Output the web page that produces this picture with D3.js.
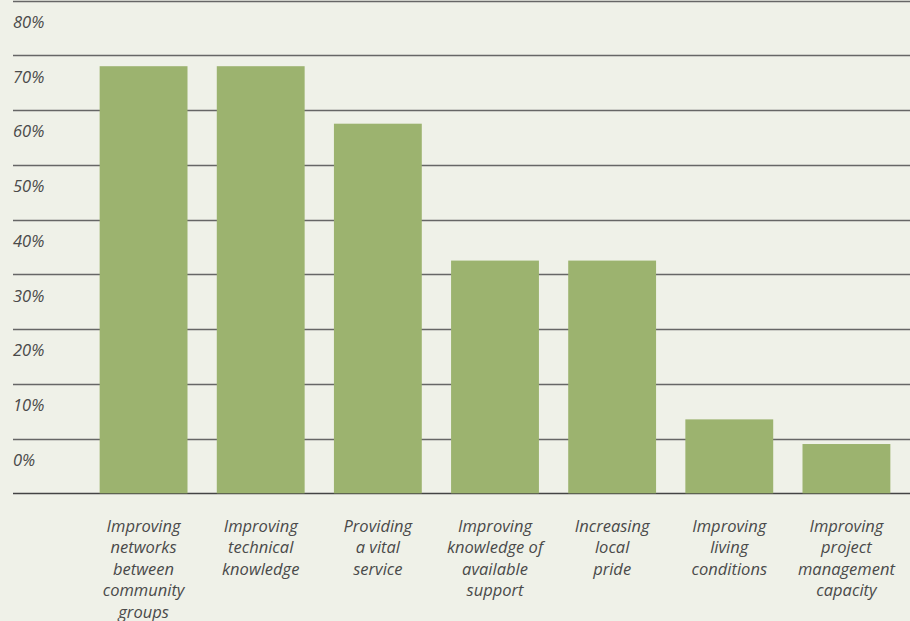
<!DOCTYPE html>
<html>
<head>
<meta charset="utf-8">
<script src="https://cdn.jsdelivr.net/npm/d3@7"></script>
<style>
  html, body { margin: 0; padding: 0; background: #eff1e8; }
  svg { display: block; }
  text { font-family: "Open Sans", "Noto Sans", sans-serif; font-style: italic; fill: #4a4a4a; }
</style>
</head>
<body>
<svg id="chart" width="910" height="621"></svg>
<script>
// Share of respondents naming each benefit (%)
const categories = [
  "Improving networks between community groups",
  "Improving technical knowledge",
  "Providing a vital service",
  "Improving knowledge of available support",
  "Increasing local pride",
  "Improving living conditions",
  "Improving project management capacity"
];
// Wrapped label lines for each category
const labelLines = [
  ["Improving", "networks", "between", "community", "groups"],
  ["Improving", "technical", "knowledge"],
  ["Providing", "a vital", "service"],
  ["Improving", "knowledge of", "available", "support"],
  ["Increasing", "local", "pride"],
  ["Improving", "living", "conditions"],
  ["Improving", "project", "management", "capacity"]
];
const values = [78, 78, 67.5, 42.5, 42.5, 13.5, 9];
const gridValues = [0, 10, 20, 30, 40, 50, 60, 70, 80, 90];
const tickValues = [0, 10, 20, 30, 40, 50, 60, 70, 80];

const svg = d3.select("#chart");
const W = 910;

const y = d3.scaleLinear().domain([0, 90]).range([493.3, 0.5]);
const x = d3.scaleBand()
  .domain(categories)
  .range([85, 905])
  .paddingInner(0.25)
  .paddingOuter(0.125);

// Horizontal grid lines
svg.append("g").selectAll("line")
  .data(gridValues)
  .join("line")
  .attr("x1", 13)
  .attr("x2", W)
  .attr("y1", d => Math.round(y(d)) + 0.5)
  .attr("y2", d => Math.round(y(d)) + 0.5)
  .attr("stroke", d => d === 0 ? "#444" : "#666")
  .attr("stroke-width", 1.3);

// Percentage labels, sitting in the band above each line
svg.append("g").selectAll("text")
  .data(tickValues)
  .join("text")
  .attr("x", 13)
  .attr("y", d => y(d) - 27.5)
  .attr("font-size", 16.5)
  .text(d => d + "%");

// Bars
svg.append("g").selectAll("rect")
  .data(values)
  .join("rect")
  .attr("x", (d, i) => x(categories[i]))
  .attr("width", x.bandwidth())
  .attr("y", d => y(d))
  .attr("height", d => y(0) - y(d))
  .attr("fill", "#9cb36f");

// Category labels under the bars
const lab = svg.append("g").selectAll("text")
  .data(categories)
  .join("text")
  .attr("text-anchor", "middle")
  .attr("font-size", 16.5)
  .attr("x", d => x(d) + x.bandwidth() / 2)
  .attr("y", 531.5);

lab.selectAll("tspan")
  .data((d, i) => labelLines[i])
  .join("tspan")
  .attr("x", function () { return this.parentNode.getAttribute("x"); })
  .attr("dy", (d, i) => i === 0 ? 0 : 21.6)
  .text(d => d);
</script>
</body>
</html>
